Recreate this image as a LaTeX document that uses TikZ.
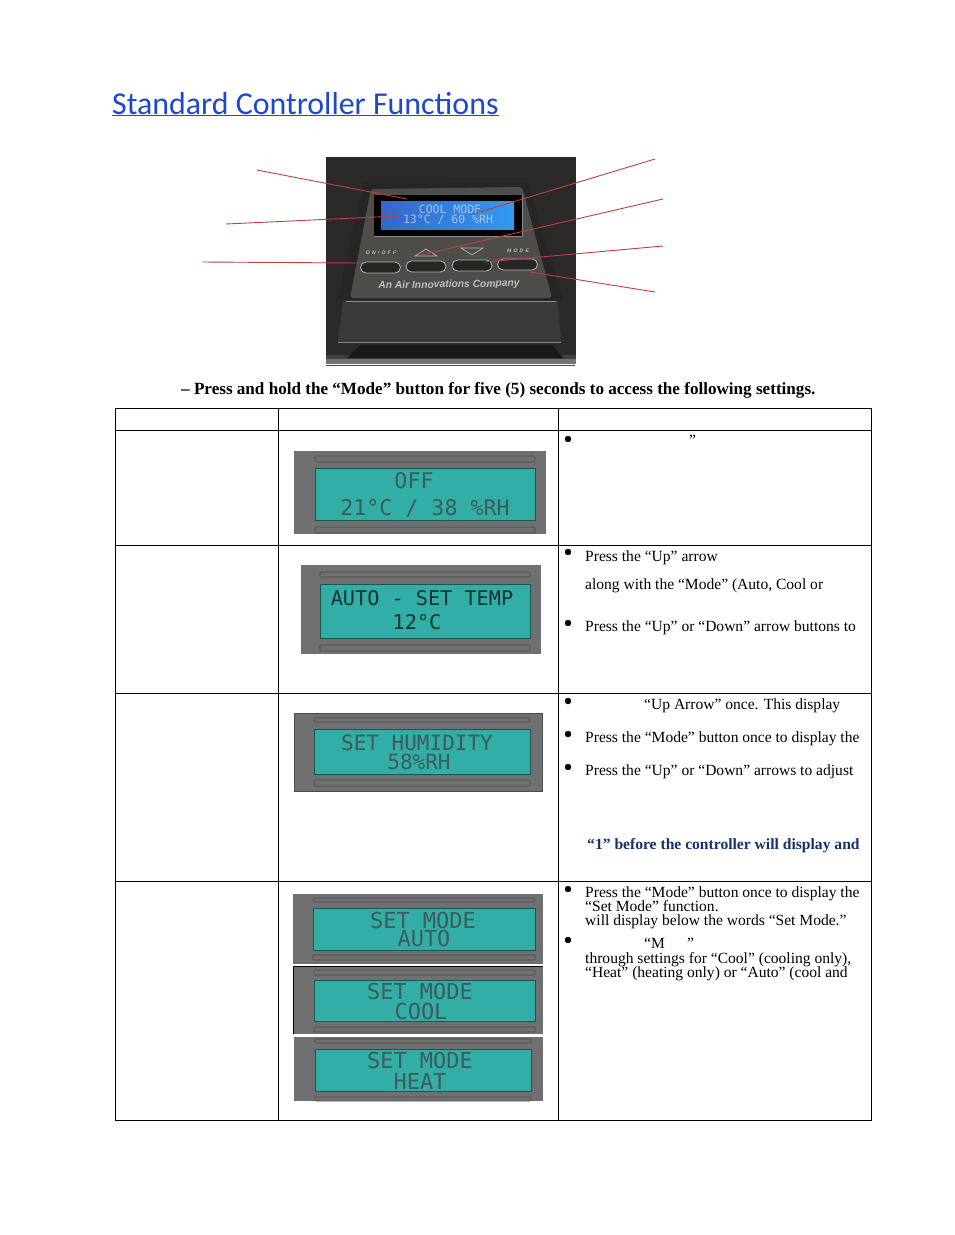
\documentclass[tikz,border=0pt]{standalone}
\usepackage{fontspec}
\usepackage{tikz}
\usetikzlibrary{shapes.misc}
\setmainfont{Liberation Serif}
\newfontfamily\titlefont{Carlito}
\newfontfamily\photofont{Liberation Sans}
\newfontfamily\lcdfont{DejaVu Sans Mono}
\definecolor{link-blue}{RGB}{28,72,205}
\definecolor{note-blue}{RGB}{20,50,110}
\definecolor{leader-red}{RGB}{192,62,62}
\definecolor{photo-dark}{RGB}{44,42,41}
\definecolor{photo-panel}{RGB}{78,77,74}
\definecolor{photo-lower}{RGB}{60,58,56}
\definecolor{lcd-body}{RGB}{112,112,112}
\definecolor{lcd-teal}{RGB}{50,174,166}
\definecolor{lcd-ink}{RGB}{62,92,94}
\definecolor{lcd-blue}{RGB}{66,120,235}
\tikzset{
  bodytext/.style={anchor=base west, inner sep=0pt, font=\fontsize{15.55}{16}\selectfont},
  notetext/.style={bodytext, text=note-blue, font=\fontsize{15.6}{16}\selectfont\bfseries},
  lcdstrip/.style={draw=black!70, fill=lcd-body, rounded corners=1pt, line width=.6pt},
  lcdscreen/.style={draw=black!50!lcd-teal, fill=lcd-teal, line width=.7pt},
  lcdtext/.style={inner sep=0pt, text=lcd-ink},
  leader/.style={draw=leader-red, line width=.9pt},
  keycap/.style={rounded rectangle, draw=black!30, fill=black!85, line width=.8pt, inner sep=0pt, minimum height=11pt, minimum width=40pt},
  photolabel/.style={text=black!25, inner sep=0pt, font=\photofont\bfseries\itshape\fontsize{5}{6}\selectfont\addfontfeature{LetterSpace=45}}
}
\begin{document}
\begin{tikzpicture} [x=1pt,y=-1pt]%Controller page
\useasboundingbox (0,0) rectangle (954,1235);
  \node (title) [anchor=base west, inner sep=0pt, text=link-blue, font=\titlefont\fontsize{31.9}{33}\selectfont] at (112,114) {\underline{Standard Controller Functions}};
%  photo of the controller
  \fill [photo-dark] (326,157) rectangle (576,364);
  \fill [black!75] (326,355) rectangle (576,364);
  \fill [black!55] (326,359) rectangle (576,364);
  \fill [black!85] (337,300) -- (364,183) -- (528,182) -- (563,300) -- cycle;
  \fill [photo-lower] (343,301) -- (558,301) -- (561,342) -- (338,342) -- cycle;
  \draw [black!45, line width=.9pt] (346,301) -- (556,301);
  \draw [black!50, line width=.6pt] (338,342) -- (561,342);
  \fill [black!90] (360,345) -- (553,345) -- (563,358) -- (347,358) -- cycle;
  \fill [photo-panel, rounded corners=3pt] (350,298) -- (371,189) -- (522,187) -- (552,298) -- cycle;
  \fill [black] (374,195) rectangle (522,236);
  \draw [black!45, line width=.5pt] (374,236) -- (522,236) -- (522,195);
  \shade [left color=lcd-blue!85!black, right color=lcd-blue!75!cyan] (381,201) rectangle (514,229);
  \node (lcdtop) [text=white!55!lcd-blue, inner sep=0pt, font=\lcdfont\fontsize{11.5}{12}\selectfont] at (450,209) {COOL MODE};
  \node (lcdbot) [text=white!55!lcd-blue, inner sep=0pt, font=\lcdfont\fontsize{11.5}{12}\selectfont] at (448,220) {13°C / 60 \%RH};
  \node (onoff) [keycap] at (380.5,267.5) {};
  \node (upkey) [keycap] at (426,266.5) {};
  \node (downkey) [keycap] at (472,265.5) {};
  \node (modekey) [keycap] at (517.5,264.5) {};
  \node (onofflabel) [photolabel] at (381,253) {ON/OFF};
  \node (modelabel) [photolabel] at (518,251) {MODE};
  \draw [black!30, line width=.7pt] (415,256) -- (426,249) -- (437,256) -- cycle;
  \draw [black!30, line width=.7pt] (461,248) -- (472,255) -- (483,248) -- cycle;
  \node (company) [text=black!25, rotate=1, inner sep=0pt, font=\photofont\bfseries\itshape\fontsize{10.3}{12}\selectfont] at (449,285) {An Air Innovations Company};
  \draw [link-blue, line width=.8pt] (326,365) -- (575,365);
%  leader lines
  \coordinate (leadA) at (257,170);
  \coordinate (leadB) at (226,224);
  \coordinate (leadC) at (202,262);
  \coordinate (leadD) at (655,159);
  \coordinate (leadE) at (663,199);
  \coordinate (leadF) at (663,246);
  \coordinate (leadG) at (655,292);
  \coordinate (endA) at (407,199);
  \coordinate (endB) at (398,216);
  \coordinate (endC) at (361,263);
  \coordinate (endD) at (473,214);
  \coordinate (endE) at (421,255);
  \coordinate (endF) at (485,262);
  \coordinate (endG) at (530,272);
  \draw [leader] (leadA) -- (endA);
  \draw [leader] (leadB) -- (endB);
  \draw [leader] (leadC) -- (endC);
  \draw [leader] (leadD) -- (endD);
  \draw [leader] (leadE) -- (endE);
  \draw [leader] (leadF) -- (endF);
  \draw [leader] (leadG) -- (endG);
  \node (intro) [anchor=base west, inner sep=0pt, font=\fontsize{17.1}{18}\selectfont\bfseries] at (181,394) {– Press and hold the “Mode” button for five (5) seconds to access the following settings.};
%  table
  \draw [line width=.9pt] (115,408) rectangle (871,1120);
  \draw [line width=.9pt] (115,430) -- (871,430);
  \draw [line width=.9pt] (115,545) -- (871,545);
  \draw [line width=.9pt] (115,693) -- (871,693);
  \draw [line width=.9pt] (115,881) -- (871,881);
  \draw [line width=.9pt] (278,408) -- (278,1120);
  \draw [line width=.9pt] (558,408) -- (558,1120);
%  off display
  \fill [lcd-body] (294,451) rectangle (546,534);
  \draw [lcdstrip] (315,456) rectangle (535,462);
  \draw [lcdscreen] (315,468) rectangle (535,520);
  \draw [lcdstrip] (315,527) rectangle (535,533);
  \node (offtop) [lcdtext, font=\lcdfont\fontsize{21.6}{22}\selectfont] at (414,481) {OFF};
  \node (offbot) [lcdtext, font=\lcdfont\fontsize{21.6}{22}\selectfont] at (425,508) {21°C / 38 \%RH};
%  temperature display
  \fill [lcd-body] (301,565) rectangle (541,654);
  \draw [lcdstrip] (320,572) rectangle (530,577);
  \draw [lcdscreen] (320,584) rectangle (530,638);
  \draw [lcdstrip] (320,645) rectangle (530,651);
  \node (temptop) [lcdtext, text=black!70!lcd-teal, font=\lcdfont\fontsize{20.2}{21}\selectfont] at (422,598) {AUTO - SET TEMP};
  \node (tempbot) [lcdtext, text=black!70!lcd-teal, font=\lcdfont\fontsize{20.2}{21}\selectfont] at (417,622) {12°C};
%  humidity display
  \draw [black!70, fill=lcd-body] (294,713) rectangle (542,791);
  \draw [lcdstrip] (314,718) rectangle (530,722);
  \draw [lcdscreen] (314,729) rectangle (530,774);
  \draw [lcdstrip] (314,780) rectangle (530,786);
  \node (humtop) [lcdtext, font=\lcdfont\fontsize{21}{22}\selectfont] at (417,743) {SET HUMIDITY};
  \node (humbot) [lcdtext, font=\lcdfont\fontsize{21}{22}\selectfont] at (419,762) {58\%RH};
%  mode displays
  \fill [lcd-body] (293,894) rectangle (543,964);
  \draw [lcdstrip] (313,898) rectangle (535,902);
  \draw [lcdscreen] (313,908) rectangle (535,950);
  \draw [lcdstrip] (313,955) rectangle (535,960);
  \node (autotop) [lcdtext, font=\lcdfont\fontsize{22}{23}\selectfont] at (423,920) {SET MODE};
  \node (autobot) [lcdtext, font=\lcdfont\fontsize{22}{23}\selectfont] at (424,938) {AUTO};
  \fill [lcd-body] (293,966) rectangle (543,1034);
  \draw [black, line width=.8pt] (293,966) -- (293,1034);
  \draw [black, line width=.8pt] (293,966) -- (543,966);
  \draw [lcdstrip] (314,970) rectangle (535,975);
  \draw [lcdscreen] (314,980) rectangle (535,1021);
  \draw [lcdstrip] (314,1027) rectangle (535,1032);
  \node (cooltop) [lcdtext, font=\lcdfont\fontsize{22}{23}\selectfont] at (420,991) {SET MODE};
  \node (coolbot) [lcdtext, font=\lcdfont\fontsize{22}{23}\selectfont] at (421,1011) {COOL};
  \fill [lcd-body] (294,1037) rectangle (543,1101);
  \draw [lcdstrip] (315,1039) rectangle (531,1043);
  \draw [lcdscreen] (315,1049) rectangle (531,1091);
  \draw [lcdstrip] (315,1097) -- (315,1101) -- (531,1101) -- (531,1097) -- cycle;
  \node (heattop) [lcdtext, font=\lcdfont\fontsize{22}{23}\selectfont] at (420,1060) {SET MODE};
  \node (heatbot) [lcdtext, font=\lcdfont\fontsize{22}{23}\selectfont] at (420,1081) {HEAT};
%  right column
  \draw [fill] (568,439) circle [radius=3];
  \node (offquote) [bodytext] at (689,445) {”};
  \draw [fill] (568,552) circle [radius=3];
  \node (tempa) [bodytext] at (585,561) {Press the “Up” arrow};
  \node (tempb) [bodytext] at (585,589) {along with the “Mode” (Auto, Cool or};
  \draw [fill] (568,623) circle [radius=3];
  \node (tempc) [bodytext] at (585,631) {Press the “Up” or “Down” arrow buttons to};
  \draw [fill] (568,701) circle [radius=3];
  \node (huma) [bodytext] at (644,709) {“Up Arrow” once. This display};
  \draw [fill] (568,734) circle [radius=3];
  \node (humb) [bodytext] at (585,742) {Press the “Mode” button once to display the};
  \draw [fill] (568,767) circle [radius=3];
  \node (humc) [bodytext] at (585,775) {Press the “Up” or “Down” arrows to adjust};
  \node (humd) [notetext] at (587,849) {“1” before the controller will display and};
  \draw [fill] (568,889) circle [radius=3];
  \node (modea) [bodytext] at (585,897) {Press the “Mode” button once to display the};
  \node (modeb) [bodytext] at (585,911) {“Set Mode” function.};
  \node (modec) [bodytext] at (585,925) {will display below the words “Set Mode.”};
  \draw [fill] (568,940) circle [radius=3];
  \node (moded) [bodytext] at (644,948) {“M};
  \node (modee) [bodytext] at (687,948) {”};
  \node (modef) [bodytext] at (585,963) {through settings for “Cool” (cooling only),};
  \node (modeg) [bodytext] at (585,977) {“Heat” (heating only) or “Auto” (cool and};
\end{tikzpicture}
\end{document}
